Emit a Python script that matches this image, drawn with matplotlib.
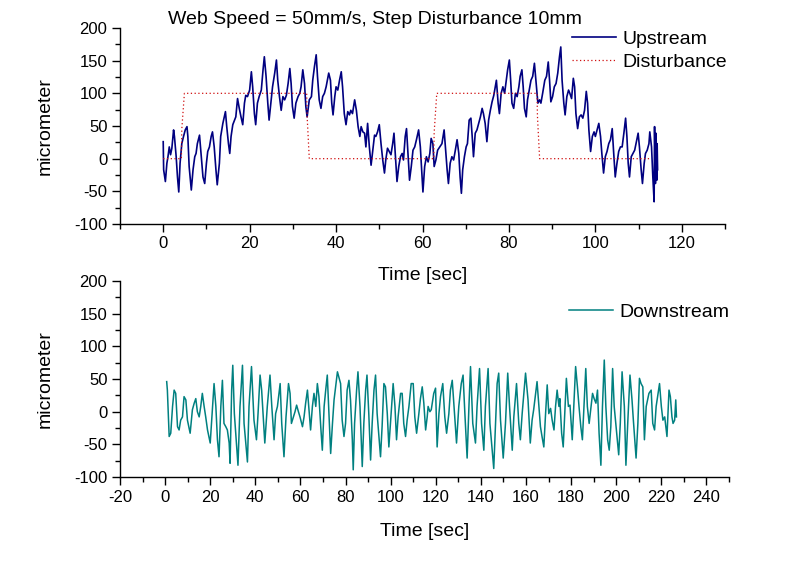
import matplotlib
matplotlib.use("Agg")
import matplotlib.pyplot as plt
from matplotlib.ticker import MultipleLocator

plt.rcParams['font.family'] = ['Liberation Sans', 'DejaVu Sans']
plt.rcParams['axes.unicode_minus'] = False

# ---------------- data ----------------
up_t = [0.0, 0.1, 0.5, 0.85, 1.1, 1.4, 1.7, 2.0, 2.4, 2.6, 3.0, 3.3, 3.6, 3.9, 4.3, 4.7, 5.1, 5.5, 5.7, 6.0,
        6.5, 6.9, 7.3, 7.6, 7.9, 8.4, 8.8, 9.2, 9.6, 10.0, 10.3, 10.7, 11.1, 11.4, 11.8, 12.2, 12.5, 13.0,
        13.3, 13.8, 14.4, 14.7, 15.1, 15.4, 15.7, 16.1, 16.5, 16.8, 17.2, 17.6, 18.0, 18.4, 18.8, 19.1,
        19.5, 20.0, 20.4, 20.7, 21.1, 21.4, 21.8, 22.2, 22.7, 23.1, 23.4, 23.8, 24.2, 24.5, 24.9, 25.3,
        25.8, 26.2, 26.5, 26.9, 27.3, 27.7, 28.1, 28.5, 28.9, 29.3, 29.6, 29.9, 30.3, 30.7, 31.2, 31.6,
        31.9, 32.3, 32.7, 33.0, 33.3, 33.8, 34.3, 34.6, 35.0, 35.4, 35.7, 36.1, 36.5, 36.9, 37.3, 37.7,
        38.3, 38.7, 39.0, 39.3, 39.7, 40.0, 40.4, 40.8, 41.2, 41.5, 41.9, 42.3, 42.7, 43.1, 43.4, 43.8,
        44.3, 44.7, 45.1, 45.5, 45.8, 46.2, 46.6, 46.9, 47.3, 47.7, 48.1, 48.5, 48.9, 49.2, 49.6, 50.0,
        50.4, 50.8, 51.2, 51.5, 51.9, 52.3, 52.7, 53.1, 53.4, 53.7, 54.1, 54.5, 54.9, 55.3, 55.6, 56.0,
        56.3, 56.6, 57.0, 57.4, 57.8, 58.2, 58.6, 59.1, 59.5, 59.9, 60.1, 60.5, 60.9, 61.3, 61.7, 62.0,
        62.4, 62.7, 63.1, 63.5, 64.0, 64.5, 65.0, 65.3, 65.7, 66.0, 66.4, 66.8, 67.2, 67.6, 68.0, 68.4,
        68.7, 69.0, 69.3, 69.7, 70.1, 70.4, 70.8, 71.2, 71.5, 71.8, 72.2, 72.6, 73.0, 73.4, 73.8, 74.1,
        74.5, 74.9, 75.3, 75.7, 76.1, 76.5,
        77.1, 77.5, 77.8, 78.2, 78.6, 79.0, 79.3, 79.7, 80.1, 80.4, 80.7, 81.1, 81.5, 81.9, 82.3, 82.6,
        83.0, 83.3, 83.6, 84.0, 84.3, 84.7, 85.1, 85.5, 85.9, 86.3, 86.7, 87.1, 87.4, 87.8, 88.3, 88.7,
        89.1, 89.4, 89.7, 90.1, 90.5, 90.9, 91.3, 91.7, 92.0, 92.3, 92.7, 93.0, 93.4, 93.8, 94.1, 94.5,
        94.9, 95.2, 95.5, 95.9, 96.3, 96.7, 97.1, 97.5, 97.9, 98.2, 98.5, 98.9, 99.3, 99.7, 100.0, 100.4,
        100.8, 101.2, 101.5, 101.9, 102.3, 102.7, 103.1, 103.5, 103.9, 104.2, 104.6, 105.0, 105.4, 105.8,
        106.2, 106.6, 107.0, 107.3, 107.6, 107.9, 108.3, 108.7, 109.1, 109.4, 109.9, 110.2, 110.6, 110.9,
        111.3, 111.6, 112.0, 112.4, 112.6, 113.0, 113.3, 113.6, 113.7, 113.9, 114.0, 114.2, 114.3, 114.4]
up_v = [26, -17, -35, -7, 3, 18, 6, 16, 44, 34, 3, -28, -51, -7, 23, 34, 44, 49, 34, -12,
        -48, -17, 3, 8, 23, 36, 3, -28, -38, -7, 11, 18, 34, 41, 18, -17, -40, -7,
        34, 54, 72, 49, 23, 8, 34, 52, 59, 64, 92, 77, 64, 52, 85, 97,
        95, 105, 133, 110, 69, 52, 85, 95, 105, 136, 156, 126, 85, 59, 85, 110,
        131, 151, 120, 95, 74, 95, 90, 97, 115, 138, 115, 80, 62, 85, 95, 100,
        110, 136, 115, 80, 64, 90, 95, 120, 141, 159, 126, 90, 77, 95, 100, 110,
        131, 120, 85, 67, 95, 110, 105, 120, 133, 110, 69, 52, 72, 67, 74, 69,
        90, 74, 49, 34, 49, 41, 39, 18, 54, 18, -10, 13, 36, 34, 41, 52,
        23, -2, -22, -2, 16, 11, 6, 23, 39, 8, -35, -12, 3, 8, -2, 34,
        46, 13, -33, -12, 13, 18, 29, 44, 18, -28, -51, -12, 3, -5, 8, 31,
        23, -12, -2, 13, 18, 23, 44, 18, -17, -38, -7, 3, -2, 13, 29, 8,
        -28, -53, -17, 3, 18, 23, 59, 62, 34, 3, 39, 44, 54, 64, 77, 69,
        54, 26, 59, 74, 87, 97,
        120, 85, 69, 100, 110, 100, 115, 136, 151, 120, 85, 77, 100, 95, 110, 126,
        136, 110, 77, 64, 90, 105, 120, 126, 146, 115, 85, 90, 85, 100, 120, 126,
        148, 120, 87, 95, 110, 115, 131, 156, 171, 120, 85, 67, 95, 105, 100, 92,
        123, 110, 69, 46, 64, 67, 62, 74, 103, 85, 44, 11, 34, 41, 34, 44,
        54, 34, 8, -22, 3, 11, 23, 29, 46, 13, -28, -7, 11, 18,
        18, 39, 62, 34, -7, -28, 3, 8, 13, 23, 39, 18, -17, -38,
        -7, 8, 13, 23, 41, 18, -28, -66, 49, -38, 39, -33, 23, -17]

dist_t = [0.0, 4.2, 4.3, 4.9, 33.2, 33.3, 33.8, 62.6, 62.7, 63.3, 86.5, 86.6, 87.1, 113.0]
dist_v = [0, 0, 45, 100, 100, 65, 0, 0, 40, 100, 100, 65, 0, 0]

down_t = [0.7, 1.0, 1.8, 2.5, 3.3, 4.0, 4.7, 5.5, 6.2, 6.9, 7.7, 8.4, 9.2, 9.9, 11.1, 12.1, 12.9, 13.6,
          14.3, 15.1, 15.8, 16.5, 17.3, 18.0, 18.8, 20.0, 21.7, 22.5, 23.2, 23.9, 24.7, 25.4, 26.1,
          26.9, 27.6, 28.4, 28.8, 29.5, 30.0, 30.7, 32.3, 33.2, 34.3, 35.0, 36.5, 37.2, 38.3, 39.4,
          40.5, 41.2, 42.1, 42.8, 43.6, 44.2, 45.3, 46.5, 47.3, 48.3, 49.0, 49.8, 51.0, 51.7, 52.7,
          53.6, 54.7, 55.4, 56.0, 56.9, 57.6, 58.3, 59.1, 59.8, 60.9, 61.6, 62.3, 63.1, 63.8, 64.5,
          65.3, 66.0, 66.8, 67.5, 68.2, 69.0, 69.7, 70.5, 71.2, 71.9, 72.7, 73.4, 74.2, 74.9, 76.4,
          77.8, 78.5, 79.3, 80.0, 80.7, 81.5, 82.2, 83.0, 83.4, 84.0, 84.9, 85.5, 86.4, 87.4, 88.1,
          88.9, 89.5, 90.3, 91.1, 91.8, 92.6, 93.3, 94.0, 95.5, 96.2, 97.0, 97.7, 98.5, 99.2, 99.9,
          101.1, 101.9, 102.6, 103.3, 104.4, 105.1, 105.8, 106.6, 107.3, 108.1, 109.1, 110.0, 110.7,
          111.5, 112.5, 113.2, 114.0, 114.7, 115.5, 116.2, 116.6, 117.4, 118.0, 119.1, 119.9, 120.6,
          121.4, 122.1, 123.1, 124.0, 124.8, 125.8, 126.5, 127.3, 128.3, 129.2, 130.2, 131.3, 132.1,
          132.9, 133.9, 134.7, 135.4, 136.4, 137.6, 138.3, 139.4, 140.3, 141.3, 142.0, 143.2, 144.0,
          145.7, 146.5, 147.2, 147.9, 148.7, 149.9, 150.9, 151.9, 152.7, 153.9, 154.6, 155.8, 156.8,
          157.5, 158.3, 159.8, 160.9, 161.5, 161.9, 162.7, 163.4, 164.9, 165.7, 166.4, 167.1, 167.9,
          168.6, 169.4, 170.1, 170.9, 171.6, 172.4, 173.1, 173.8, 174.6, 175.0, 175.8, 176.5, 177.3,
          177.9, 178.8, 179.5, 180.5, 181.3, 182.0, 182.8, 183.5, 184.3, 185.0, 185.7, 186.5, 187.2,
          188.0, 188.7, 189.5, 190.2, 191.0, 191.7, 192.4, 193.2, 193.9, 194.7, 195.4, 196.2, 196.9,
          197.6, 198.4, 199.1, 200.2, 201.1, 201.8, 202.6, 203.6, 204.3, 205.1, 206.1, 207.0, 207.6,
          208.8, 209.6, 210.3, 211.0, 211.8, 212.5, 213.3, 214.5, 215.5, 216.2, 217.0, 217.7, 219.2,
          220.0, 220.7, 221.5, 222.5, 223.4, 224.0, 224.7, 225.2, 225.9, 226.4, 226.7]
down_v = [46, 33, -38, -33, 8, 33, 28, -23, -28, -13, -8, 23, 18, -13, -33, 3, 13, 20,
          0, -8, 8, 28, 8, -8, -28, -48, 43, 8, -43, -69, 8, 48, -18,
          -23, -28, -48, -79, 33, 71, -3, -82, 8, 71, -18, -77, 8, 69, -13,
          -43, -3, 56, 33, -13, -48, 8, 56, 8, -43, -3, 8, 43, -18, -69,
          -8, 43, 28, -18, -8, 0, 10, 0, -8, -23, -8, 13, 33, 3, -28,
          8, 28, 8, 43, 23, -23, -59, 8, 33, 56, -8, -64, -18, 18, 61,
          43, -13, -38, -18, 33, 48, 18, -43, -89, -18, 33, 61, 8, -84, -18,
          33, 56, -3, -74, -18, 33, 56, -3, -69, -23, 43, 38, -3, -54, -18,
          43, 8, -43, -8, 28, 28, -18, -38, -13, 8, 43, 43, -8,
          -33, -3, 20, 38, 13, -28, -8, 8, 0, 3, 28, 36, -54,
          -3, 23, 43, -8, -33, -3, 33, 48, -3, -48, 8, 43, 56,
          -3, -71, 8, 69, -18, -48, 8, 66, -18, -59, 8, 66, -18,
          -87, -18, 43, 59, -13, -71, -18, 59, 8, -59, -8, 43, -18,
          -43, -3, 59, 18, -23, -48, -13, 3, 46, 8, -23, -38, -54,
          -8, 41, -3, 5, -13, -28, 8, 33, 8, 20, -33, -54, 8,
          51, 8, 10, -43, 18, 69, 38, 8, -23, -43, 8, 66, 8,
          -18, 3, 28, 20, 13, 33, -33, -82, 8, 79, 8, -43, -59,
          -23, 66, 8, -33, -66, -18, 61, 8, -82, -18, 56, 18, -13,
          -71, -18, 51, 43, 38, -43, 8, 28, 33, -18, -28, 8, 43,
          8, -13, -8, -38, 33, 23, -8, -18, -13, 18, -8]

up_xticks = [0, 20, 40, 60, 80, 100, 120]
down_xticks = [-20, 0, 20, 40, 60, 80, 100, 120, 140, 160, 180, 200, 220, 240]
yticks = [-100, -50, 0, 50, 100, 150, 200]

title = "Web Speed = 50mm/s, Step Disturbance 10mm"

# ---------------- figure ----------------
fig = plt.figure(figsize=(8.0, 5.62), dpi=100)
ax1 = fig.add_axes([120 / 800, 1 - 224 / 562, 605 / 800, 196 / 562])
ax2 = fig.add_axes([120 / 800, 1 - 477 / 562, 609 / 800, 196 / 562])

l_up, = ax1.plot(up_t, up_v, color='#000080', lw=1.2, label='Upstream')
l_dist, = ax1.plot(dist_t, dist_v, color='#d01010', lw=0.9, ls=(0, (1, 2)), label='Disturbance')
l_down, = ax2.plot(down_t, down_v, color='#008080', lw=1.1, label='Downstream')

for ax, xl, xt, lp in [(ax1, (-10, 130), up_xticks, 11), (ax2, (-20, 250), down_xticks, 13)]:
    ax.patch.set_visible(False)
    ax.set_xlim(*xl)
    ax.set_ylim(-100, 200)
    ax.set_xticks(xt)
    ax.set_yticks(yticks)
    ax.xaxis.set_minor_locator(MultipleLocator(10))
    ax.yaxis.set_minor_locator(MultipleLocator(25))
    for s in ['top', 'right']:
        ax.spines[s].set_visible(False)
    for s in ['left', 'bottom']:
        ax.spines[s].set_linewidth(1.0)
    ax.tick_params(which='major', direction='out', length=6, width=1.0, labelsize=12, pad=3)
    ax.tick_params(which='minor', direction='out', length=3.5, width=1.0)
    ax.set_xlabel('Time [sec]', fontsize=14, labelpad=lp)
    ax.set_ylabel('micrometer', fontsize=14, labelpad=15)

fig.text(375 / 800, 1 - 19 / 562, title, ha='center', va='center', fontsize=14)

ax1.legend(handles=[l_up, l_dist], loc='upper left', bbox_to_anchor=(572 / 800, 1 - 30 / 562),
           bbox_transform=fig.transFigure, frameon=False, fontsize=14, handlelength=2.25,
           handletextpad=0.35, labelspacing=0.3, borderpad=0, borderaxespad=0)
ax2.legend(handles=[l_down], loc='upper left', bbox_to_anchor=(569 / 800, 1 - 303 / 562),
           bbox_transform=fig.transFigure, frameon=False, fontsize=14, handlelength=2.25,
           handletextpad=0.35, borderpad=0, borderaxespad=0)

fig.savefig('out.png', dpi=100)
